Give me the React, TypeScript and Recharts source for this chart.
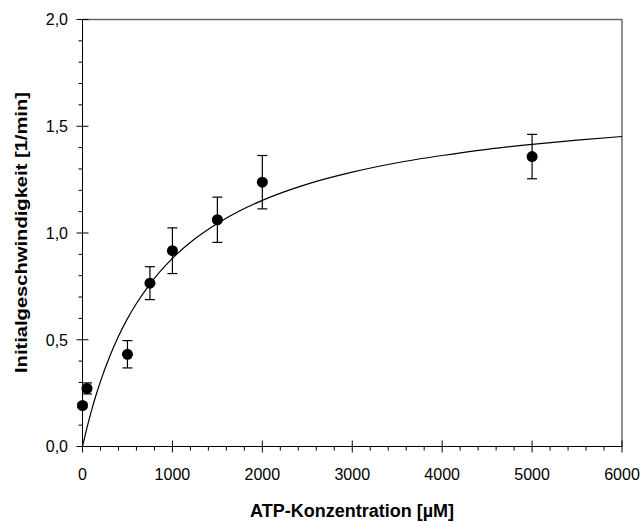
import React from 'react';
import { ComposedChart, Scatter, Line, XAxis, YAxis, ErrorBar, ReferenceLine } from 'recharts';

// Measured data (ATP concentration in µM, initial rate in 1/min)
const concentrations = [0, 50, 500, 750, 1000, 1500, 2000, 5000];
const rates = [0.192, 0.272, 0.432, 0.765, 0.917, 1.062, 1.238, 1.358];
const rateErrors = [0.01, 0.026, 0.064, 0.077, 0.107, 0.106, 0.125, 0.104];

// Fitted curve
const fitX = [0, 25, 50, 100, 150, 200, 300, 400, 500, 600, 750, 1000, 1250, 1500, 1750, 2000, 2500, 3000, 3500, 4000, 4500, 5000, 5500, 6000];
const fitY = [0, 0.045, 0.088, 0.168, 0.24, 0.305, 0.419, 0.516, 0.599, 0.67, 0.761, 0.881, 0.973, 1.045, 1.104, 1.153, 1.229, 1.285, 1.329, 1.363, 1.392, 1.415, 1.435, 1.452];

// Ticks (major + minor)
const xTicks = [0, 200, 400, 600, 800, 1000, 1200, 1400, 1600, 1800, 2000, 2200, 2400, 2600, 2800, 3000, 3200, 3400, 3600, 3800, 4000, 4200, 4400, 4600, 4800, 5000, 5200, 5400, 5600, 5800, 6000];
const yTicks = [0, 0.1, 0.2, 0.3, 0.4, 0.5, 0.6, 0.7, 0.8, 0.9, 1.0, 1.1, 1.2, 1.3, 1.4, 1.5, 1.6, 1.7, 1.8, 1.9, 2.0];

const xTitle = 'ATP-Konzentration [µM]';
const yTitle = 'Initialgeschwindigkeit [1/min]';

const scatterData = concentrations.map((x, i) => ({ x, y: rates[i], err: rateErrors[i] }));
const fitData = fitX.map((x, i) => ({ x, y: fitY[i] }));

const FONT = '"Liberation Sans", Arial, Helvetica, sans-serif';

const XTick = (props: any) => {
  const { x, y, payload } = props;
  const v = payload.value;
  const major = v % 1000 === 0;
  return (
    <g>
      <line x1={x} x2={x} y1={major ? y - 6 : y} y2={major ? y + 6 : y + 4} stroke="#000" strokeWidth={1} />
      {major && (
        <text x={x} y={y + 33} textAnchor="middle" fontFamily={FONT} fontSize={16} fill="#000">
          {String(v)}
        </text>
      )}
    </g>
  );
};

const YTick = (props: any) => {
  const { x, y, payload } = props;
  const v = payload.value;
  const major = Math.round(v * 10) % 5 === 0;
  return (
    <g>
      <line x1={major ? x - 6 : x - 4} x2={major ? x + 6 : x} y1={y} y2={y} stroke="#000" strokeWidth={1} />
      {major && (
        <text x={x - 14.5} y={y + 5.8} textAnchor="end" fontFamily={FONT} fontSize={16} fill="#000">
          {v.toFixed(1).replace('.', ',')}
        </text>
      )}
    </g>
  );
};

const renderXTitle = () => (
  <text x={352} y={517} textAnchor="middle" fontFamily={FONT} fontSize={17.5} fontWeight="bold" fill="#000" textLength={204} lengthAdjust="spacingAndGlyphs">
    {xTitle}
  </text>
);

const renderYTitle = () => (
  <text x={27} y={232.5} transform="rotate(-90 27 232.5)" textAnchor="middle" fontFamily={FONT} fontSize={16.5} fontWeight="bold" fill="#000" textLength={281} lengthAdjust="spacingAndGlyphs">
    {yTitle}
  </text>
);

const Dot = (p: any) => <circle cx={p.cx} cy={p.cy} r={5.5} fill="#000" />;

export default function App() {
  return (
    <div style={{ position: 'absolute', left: 0, top: 0, width: 641, height: 522, background: '#fff' }}>
      <ComposedChart width={641} height={522} margin={{ top: 19.5, right: 19, bottom: 35.5, left: 21.5 }}>
        <XAxis
          type="number"
          dataKey="x"
          domain={[0, 6000]}
          ticks={xTicks}
          interval={0}
          tickLine={false}
          tickSize={0}
          tickMargin={0}
          tick={<XTick />}
          axisLine={{ stroke: '#000', strokeWidth: 1 }}
          height={40}
          label={{ value: xTitle, content: renderXTitle }}
        />
        <YAxis
          type="number"
          dataKey="y"
          domain={[0, 2]}
          ticks={yTicks}
          interval={0}
          tickLine={false}
          tickSize={0}
          tickMargin={0}
          tick={<YTick />}
          axisLine={{ stroke: '#000', strokeWidth: 1 }}
          width={61}
          label={{ value: yTitle, content: renderYTitle }}
        />
        <ReferenceLine y={2} stroke="#666" strokeWidth={1.3} ifOverflow="visible" />
        <ReferenceLine x={6000} stroke="#222" strokeWidth={1} ifOverflow="visible" />
        <Line
          data={fitData}
          dataKey="y"
          type="monotone"
          stroke="#000"
          strokeWidth={1.2}
          dot={false}
          activeDot={false}
          isAnimationActive={false}
        />
        <Scatter data={scatterData} dataKey="y" shape={<Dot />} isAnimationActive={false}>
          <ErrorBar dataKey="err" direction="y" width={5} stroke="#000" strokeWidth={1.2} />
        </Scatter>
      </ComposedChart>
    </div>
  );
}
